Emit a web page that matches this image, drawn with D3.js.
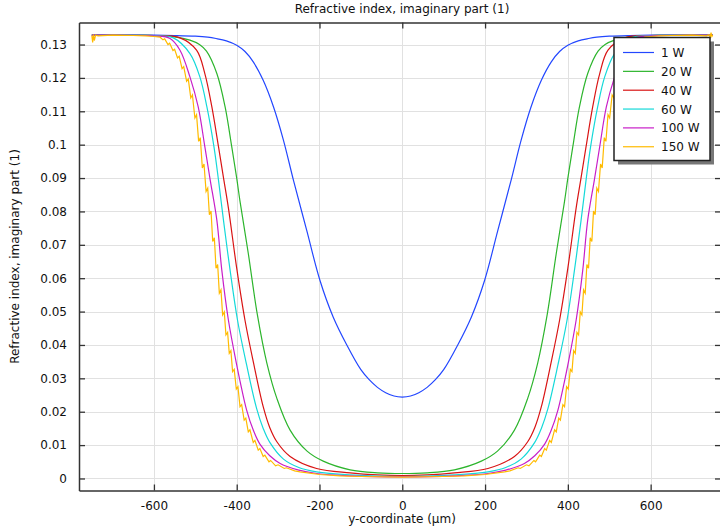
<!DOCTYPE html>
<html>
<head>
<meta charset="utf-8">
<script src="https://cdn.jsdelivr.net/npm/d3@7"></script>
<style>
  html, body { margin: 0; padding: 0; background: #fff; }
  svg { display: block; font-family: "DejaVu Sans", sans-serif; }
</style>
</head>
<body>
<svg id="chart" width="720" height="530"></svg>
<script>
// Imaginary part of the refractive index across the y-coordinate, for several powers.
const titleText = "Refractive index, imaginary part (1)";
const xLabel = "y-coordinate (µm)";
const yLabel = "Refractive index, imaginary part (1)";

const xTicks = [-600, -400, -200, 0, 200, 400, 600];
const xTickLabels = ["-600", "-400", "-200", "0", "200", "400", "600"];
const yTicks = [0, 0.01, 0.02, 0.03, 0.04, 0.05, 0.06, 0.07, 0.08, 0.09, 0.10, 0.11, 0.12, 0.13];
const yTickLabels = ["0", "0.01", "0.02", "0.03", "0.04", "0.05", "0.06", "0.07", "0.08", "0.09", "0.1", "0.11", "0.12", "0.13"];

const seriesNames = ["1 W", "20 W", "40 W", "60 W", "100 W", "150 W"];
const seriesColors = ["#2347ff", "#2db52d", "#d91414", "#14d9d9", "#c81ec8", "#ffbb00"];

// [y-coordinate (µm), imaginary index]
const p1W = [
  [-750,0.1328],[-600,0.1328],[-550,0.1327],[-500,0.1325],[-470,0.1322],[-450,0.1318],[-425,0.1311],[-400,0.1298],
  [-380,0.1279],[-360,0.1248],[-336,0.1193],[-311,0.1113],[-287,0.1013],[-263,0.0894],[-231,0.0744],
  [-199,0.0594],[-167,0.0484],[-134,0.0400],[-100,0.0326],[-80,0.0296],[-60,0.0273],[-40,0.0257],[-20,0.0247],[0,0.0244],
  [20,0.0247],[40,0.0257],[60,0.0273],[80,0.0296],[100,0.0326],[134,0.0400],[167,0.0484],[199,0.0594],[231,0.0744],
  [263,0.0894],[287,0.1013],[311,0.1113],[336,0.1193],[360,0.1248],[380,0.1279],[400,0.1298],
  [425,0.1311],[450,0.1318],[470,0.1322],[500,0.1325],[550,0.1327],[600,0.1328],[750,0.1328]
];
const p20W = [
  [-750,0.1328],[-600,0.1327],[-550,0.1323],[-513,0.1313],[-490,0.1300],[-473,0.1280],[-448,0.1213],
  [-428,0.1113],[-412,0.0994],[-400,0.0900],[-392,0.0830],[-372,0.0674],[-350,0.0490],[-327,0.0345],
  [-303,0.0240],[-271,0.0145],[-230,0.0082],[-191,0.0052],[-126,0.0026],[-60,0.0017],[0,0.0015],
  [60,0.0017],[126,0.0026],[191,0.0052],[230,0.0082],[271,0.0145],[303,0.0240],[327,0.0345],
  [350,0.0490],[372,0.0674],[392,0.0830],[400,0.0900],[412,0.0994],[428,0.1113],[448,0.1213],
  [473,0.1280],[490,0.1300],[513,0.1313],[550,0.1323],[600,0.1327],[750,0.1328]
];
const p40W = [
  [-750,0.1328],[-600,0.1327],[-537,0.1320],[-497,0.1283],[-477,0.1213],[-460,0.1113],[-444,0.0994],
  [-431,0.0894],[-420,0.0810],[-400,0.0630],[-380,0.0474],[-360,0.0350],[-336,0.0215],[-320,0.0152],
  [-303,0.0110],[-271,0.0066],[-207,0.0030],[-126,0.0017],[-60,0.0011],[0,0.0009],
  [60,0.0011],[126,0.0017],[207,0.0030],[271,0.0066],[303,0.0110],[320,0.0152],[336,0.0215],
  [360,0.0350],[380,0.0474],[400,0.0630],[420,0.0810],[431,0.0894],[444,0.0994],[460,0.1113],
  [477,0.1213],[497,0.1283],[537,0.1320],[600,0.1327],[750,0.1328]
];
const p60W = [
  [-750,0.1328],[-600,0.1327],[-553,0.1320],[-513,0.1273],[-489,0.1203],[-472,0.1113],[-455,0.0994],
  [-444,0.0894],[-432,0.0774],[-416,0.0624],[-398,0.0474],[-376,0.0340],[-352,0.0210],[-336,0.0150],
  [-320,0.0108],[-287,0.0058],[-250,0.0033],[-207,0.0020],[-126,0.0011],[0,0.0006],
  [126,0.0011],[207,0.0020],[250,0.0033],[287,0.0058],[320,0.0108],[336,0.0150],[352,0.0210],
  [376,0.0340],[398,0.0474],[416,0.0624],[432,0.0774],[444,0.0894],[455,0.0994],[472,0.1113],
  [489,0.1203],[513,0.1273],[553,0.1320],[600,0.1327],[750,0.1328]
];
const p100W = [
  [-750,0.1328],[-600,0.1326],[-561,0.1318],[-537,0.1283],[-513,0.1203],[-493,0.1113],[-477,0.0994],
  [-464,0.0894],[-448,0.0774],[-436,0.0624],[-420,0.0474],[-400,0.0340],[-392,0.0292],[-376,0.0205],
  [-360,0.0145],[-344,0.0103],[-320,0.0068],[-295,0.0045],[-250,0.0025],[-207,0.0015],[-126,0.0008],[0,0.0005],
  [126,0.0008],[207,0.0015],[250,0.0025],[295,0.0045],[320,0.0068],[344,0.0103],[360,0.0145],
  [376,0.0205],[392,0.0292],[400,0.0340],[420,0.0474],[436,0.0624],[448,0.0774],[464,0.0894],
  [477,0.0994],[493,0.1113],[513,0.1203],[537,0.1283],[561,0.1318],[600,0.1326],[750,0.1328]
];
const p150W = [
  [-750,0.1327],[-748,0.1306],[-746,0.1330],[-744,0.1312],[-741,0.1328],[-735,0.1326],[-700,0.1328],
  [-650,0.1327],[-620,0.1326],[-600,0.1324],[-585,0.1322],[-578,0.1314],[-574,0.1317],[-566,0.1300],
  [-562,0.1304],[-554,0.1282],[-550,0.1286],[-543,0.1260],[-539,0.1265],[-532,0.1228],[-528,0.1234],
  [-521,0.1190],[-517,0.1197],[-511,0.1140],[-507,0.1149],[-501,0.1080],[-497,0.1090],[-492,0.1010],
  [-488,0.1021],[-483,0.0930],[-479,0.0942],[-474,0.0860],[-470,0.0870],[-466,0.0790],[-462,0.0801],
  [-458,0.0710],[-454,0.0721],[-450,0.0630],[-446,0.0641],[-442,0.0555],[-438,0.0565],[-434,0.0490],
  [-430,0.0499],[-426,0.0430],[-422,0.0438],[-418,0.0375],[-414,0.0383],[-410,0.0320],[-406,0.0327],
  [-401,0.0268],[-397,0.0275],[-392,0.0215],[-388,0.0221],[-382,0.0175],[-378,0.0181],[-372,0.0140],
  [-368,0.0146],[-360,0.0108],[-356,0.0114],[-348,0.0085],[-344,0.0090],[-336,0.0066],[-332,0.0070],
  [-322,0.0050],[-318,0.0054],[-306,0.0038],[-300,0.0041],[-285,0.0030],[-280,0.0032],[-260,0.0023],
  [-247,0.0020],[-200,0.0012],[-150,0.0008],[-100,0.0006],[0,0.0004],
  [100,0.0006],[150,0.0008],[200,0.0012],[247,0.0020],[260,0.0023],[280,0.0032],[285,0.0030],
  [300,0.0041],[306,0.0038],[318,0.0054],[322,0.0050],[332,0.0070],[336,0.0066],[344,0.0090],
  [348,0.0085],[356,0.0114],[360,0.0108],[368,0.0146],[372,0.0140],[378,0.0181],[382,0.0175],
  [388,0.0221],[392,0.0215],[397,0.0275],[401,0.0268],[406,0.0327],[410,0.0320],[414,0.0383],
  [418,0.0375],[422,0.0438],[426,0.0430],[430,0.0499],[434,0.0490],[438,0.0565],[442,0.0555],
  [446,0.0641],[450,0.0630],[454,0.0721],[458,0.0710],[462,0.0801],[466,0.0790],[470,0.0870],
  [474,0.0860],[479,0.0942],[483,0.0930],[488,0.1021],[492,0.1010],[497,0.1090],[501,0.1080],
  [507,0.1149],[511,0.1140],[517,0.1197],[521,0.1190],[528,0.1234],[532,0.1228],[539,0.1265],
  [543,0.1260],[550,0.1286],[554,0.1282],[562,0.1304],[566,0.1300],[574,0.1317],[578,0.1314],
  [585,0.1322],[600,0.1324],[620,0.1326],[650,0.1327],[700,0.1328],[735,0.1326],[741,0.1329],
  [744,0.1322],[746,0.1336],[748,0.1324],[750,0.1328]
];
const seriesData = [p1W, p20W, p40W, p60W, p100W, p150W];

const svg = d3.select("#chart");
const plot = { left: 79, right: 721, top: 22.5, bottom: 490.5 };

const x = d3.scaleLinear().domain([-781, 770]).range([plot.left, plot.right]);
const y = d3.scaleLinear().domain([-0.0036, 0.1366]).range([plot.bottom, plot.top]);

// grid
const grid = svg.append("g").attr("stroke", "#e1e1e1").attr("stroke-width", 1);
grid.selectAll("line.gx").data(xTicks).join("line")
  .attr("x1", d => Math.round(x(d)) + 0.5).attr("x2", d => Math.round(x(d)) + 0.5)
  .attr("y1", plot.top).attr("y2", plot.bottom);
grid.selectAll("line.gy").data(yTicks).join("line")
  .attr("y1", d => Math.round(y(d)) + 0.5).attr("y2", d => Math.round(y(d)) + 0.5)
  .attr("x1", plot.left).attr("x2", plot.right);

// curves
svg.append("defs").append("clipPath").attr("id", "clip")
  .append("rect").attr("x", plot.left).attr("y", plot.top)
  .attr("width", plot.right - plot.left).attr("height", plot.bottom - plot.top);

const smooth = d3.line().x(d => x(d[0])).y(d => y(d[1])).curve(d3.curveCatmullRom.alpha(0.5));
const jagged = d3.line().x(d => x(d[0])).y(d => y(d[1])).curve(d3.curveLinear);

const curves = svg.append("g").attr("clip-path", "url(#clip)");
seriesData.forEach((pts, i) => {
  curves.append("path")
    .attr("d", (i === 5 ? jagged : smooth)(pts))
    .attr("fill", "none")
    .attr("stroke", seriesColors[i])
    .attr("stroke-width", 1.2);
});

// axes (inward ticks)
const axisColor = "#333";
const xAxisB = d3.axisBottom(x).tickValues(xTicks).tickFormat((d, i) => xTickLabels[i]).tickSizeInner(-6).tickSizeOuter(0).tickPadding(11);
const gxB = svg.append("g").attr("transform", `translate(0,${plot.bottom})`).call(xAxisB);
const xAxisT = d3.axisTop(x).tickValues(xTicks).tickFormat("").tickSizeInner(-6).tickSizeOuter(0);
const gxT = svg.append("g").attr("transform", `translate(0,${plot.top})`).call(xAxisT);
const yAxisL = d3.axisLeft(y).tickValues(yTicks).tickFormat((d, i) => yTickLabels[i]).tickSizeInner(-6).tickSizeOuter(0).tickPadding(12);
const gyL = svg.append("g").attr("transform", `translate(${plot.left},0)`).call(yAxisL);
const yAxisR = d3.axisRight(y).tickValues(yTicks).tickFormat("").tickSizeInner(-5).tickSizeOuter(0);
const gyR = svg.append("g").attr("transform", `translate(${plot.right - 1},0)`).call(yAxisR);

[gxB, gxT, gyL, gyR].forEach(g => {
  g.select(".domain").attr("stroke", axisColor).attr("stroke-width", 1.5);
  g.selectAll(".tick line").attr("stroke", axisColor).attr("stroke-width", 1.3);
  g.selectAll(".tick text").attr("fill", "#111").attr("font-size", 12)
    .attr("font-family", "DejaVu Sans, sans-serif");
});
gyR.select(".domain").attr("stroke", "none");

// titles
svg.append("text").attr("x", 402).attr("y", 12.5).attr("text-anchor", "middle")
  .attr("font-size", 12).attr("fill", "#111").text(titleText);
svg.append("text").attr("x", 402).attr("y", 523).attr("text-anchor", "middle")
  .attr("font-size", 12).attr("fill", "#111").text(xLabel);
svg.append("text").attr("transform", `translate(19,${(plot.top + plot.bottom) / 2}) rotate(-90)`)
  .attr("text-anchor", "middle").attr("font-size", 12).attr("fill", "#111").text(yLabel);

// legend
const lg = svg.append("g").attr("transform", "translate(614,37.5)");
lg.append("rect").attr("x", 4).attr("y", 4).attr("width", 96).attr("height", 123).attr("fill", "#777");
lg.append("rect").attr("x", 0).attr("y", 0).attr("width", 96).attr("height", 123)
  .attr("fill", "#fff").attr("stroke", "#222").attr("stroke-width", 1.5);
seriesNames.forEach((name, i) => {
  const cy = 15 + i * 18.85;
  lg.append("line").attr("x1", 9).attr("x2", 40).attr("y1", cy).attr("y2", cy)
    .attr("stroke", seriesColors[i]).attr("stroke-width", 1.2);
  lg.append("text").attr("x", 47).attr("y", cy + 4.5).attr("font-size", 12)
    .attr("fill", "#111").text(name);
});
</script>
</body>
</html>
